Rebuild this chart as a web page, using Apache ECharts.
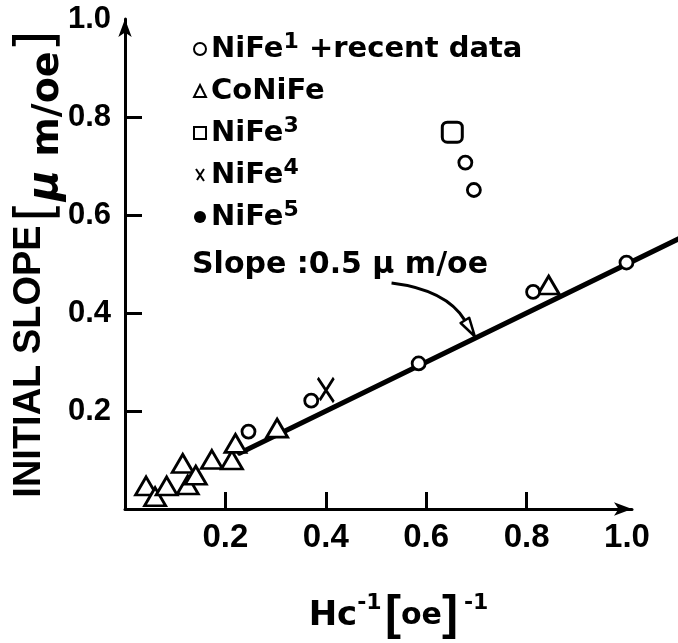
<!DOCTYPE html>
<html>
<head>
<meta charset="utf-8">
<script src="https://cdn.jsdelivr.net/npm/echarts@6/dist/echarts.min.js"></script>
<style>
  html, body { margin: 0; padding: 0; background: #fff; }
  #chart { width: 678px; height: 643px; }
</style>
</head>
<body>
<div id="chart"></div>
<script>
// Initial slope vs. inverse coercive force, permalloy family films
const nife1Points = [[0.246, 0.158], [0.371, 0.221], [0.585, 0.297], [0.678, 0.707],
                     [0.695, 0.651], [0.813, 0.443], [0.999, 0.503]];
const coNiFePoints = [[0.042, 0.047], [0.060, 0.025], [0.083, 0.047], [0.115, 0.093],
                      [0.125, 0.049], [0.141, 0.069], [0.173, 0.101], [0.213, 0.100],
                      [0.220, 0.134], [0.303, 0.165], [0.844, 0.457]];
const nife3Points = [[0.652, 0.769]];
const nife4Points = [[0.400, 0.243]];
const nife5Points = [];

// fitted line, slope 0.5 um/oe, drawn over this range of Hc^-1
const fitSlope = 0.5;
const fitRange = [0.228, 1.105];

// annotation arrow: from the slope caption down to the fitted line
const arrowFrom = [0.531, 0.461];
const arrowTo = [0.697, 0.352];
const arrowBend = 0.24;

const xTicks = [0.2, 0.4, 0.6, 0.8];
const xLabels = [0.2, 0.4, 0.6, 0.8, 1.0];
const yTicks = [0.2, 0.4, 0.6, 0.8];
const yLabels = [0.2, 0.4, 0.6, 0.8, 1.0];

const seriesNames = ['NiFe¹ +recent data', 'CoNiFe', 'NiFe³', 'NiFe⁴', 'NiFe⁵'];
const supDigits = { '¹': '1', '³': '3', '⁴': '4', '⁵': '5' };

const INK = '#000';
const LETTER = 'DejaVu Sans';
const NUM = 'Liberation Sans';
const crossPath = 'path://M0,0L16,24M16,0L2,22';

const fitSegment = [fitRange[0], fitSlope * fitRange[0], fitRange[1], fitSlope * fitRange[1]];

const chart = echarts.init(document.getElementById('chart'), null, { renderer: 'canvas' });

const hollow = { color: '#fff', borderColor: INK, borderWidth: 2.8, opacity: 1 };

function renderFit(params, api) {
  const a = api.coord([api.value(0), api.value(1)]);
  const b = api.coord([api.value(2), api.value(3)]);
  return {
    type: 'line',
    shape: { x1: a[0], y1: a[1], x2: b[0], y2: b[1] },
    style: { stroke: INK, lineWidth: 5, lineCap: 'round' }
  };
}

function renderArrow(params, api) {
  const a = api.coord([api.value(0), api.value(1)]);
  const b = api.coord([api.value(2), api.value(3)]);
  const k = api.value(4);
  const cx = (a[0] + b[0]) / 2 - (a[1] - b[1]) * k;
  const cy = (a[1] + b[1]) / 2 - (b[0] - a[0]) * k;
  let tx = b[0] - cx, ty = b[1] - cy;
  const len = Math.hypot(tx, ty);
  tx /= len; ty /= len;
  const headLen = 19, headHalf = 5;
  const bx = b[0] - tx * headLen, by = b[1] - ty * headLen;
  return {
    type: 'group',
    children: [
      {
        type: 'bezierCurve',
        shape: { x1: a[0], y1: a[1], x2: bx, y2: by, cpx1: cx, cpy1: cy },
        style: { stroke: INK, lineWidth: 3, fill: null }
      },
      {
        type: 'polygon',
        shape: { points: [[b[0], b[1]], [bx - ty * headHalf, by + tx * headHalf], [bx + ty * headHalf, by - tx * headHalf]] },
        style: { stroke: INK, lineWidth: 2.5, fill: '#fff', lineJoin: 'round' }
      }
    ]
  };
}

chart.setOption({
  backgroundColor: '#fff',
  animation: false,
  grid: { left: 125, top: 19, width: 507, height: 490, containLabel: false, outerBoundsMode: 'none' },
  xAxis: {
    type: 'value', min: 0, max: 1.01,
    splitLine: { show: false },
    axisLine: { show: true, onZero: false, lineStyle: { color: INK, width: 3 },
                symbol: ['none', 'arrow'], symbolSize: [10, 18] },
    axisTick: { show: true, inside: true, length: 17, lineStyle: { color: INK, width: 3 },
                customValues: xTicks },
    axisLabel: { show: true, margin: 12, color: INK, fontFamily: NUM, fontWeight: 'bold', fontSize: 33,
                 customValues: xLabels, formatter: v => v.toFixed(1) },
    name: '{m|Hc}{s|-1} {b|[}{o|oe}{b|]}{t|-1}',
    nameLocation: 'middle', nameGap: 83,
    nameTextStyle: {
      color: INK, padding: [0, 0, 0, 40],
      rich: {
        m: { fontFamily: LETTER, fontWeight: 'bold', fontSize: 34, lineHeight: 48, color: INK },
        o: { fontFamily: LETTER, fontWeight: 'bold', fontSize: 30, lineHeight: 48, color: INK },
        b: { fontFamily: NUM, fontWeight: 'bold', fontSize: 48, lineHeight: 48, color: INK },
        s: { fontFamily: LETTER, fontWeight: 'bold', fontSize: 22, lineHeight: 22, verticalAlign: 'top', color: INK },
        t: { fontFamily: LETTER, fontWeight: 'bold', fontSize: 22, lineHeight: 22, verticalAlign: 'top', color: INK, padding: [0, 0, 0, 6] }
      }
    }
  },
  yAxis: {
    type: 'value', min: 0, max: 1.0,
    splitLine: { show: false },
    axisLine: { show: true, onZero: false, lineStyle: { color: INK, width: 3 },
                symbol: ['none', 'arrow'], symbolSize: [10, 18] },
    axisTick: { show: true, inside: true, length: 17, lineStyle: { color: INK, width: 3 },
                customValues: yTicks },
    axisLabel: { show: true, margin: 14, color: INK, fontFamily: NUM, fontWeight: 'bold', fontSize: 31,
                 customValues: yLabels, formatter: v => v.toFixed(1) },
    name: '{c|INITIAL SLOPE} {b|[}{mu|μ}{u| m/oe}{b|]}',
    nameLocation: 'middle', nameRotate: 90, nameGap: 58, nameMoveOverlap: false,
    nameTextStyle: {
      color: INK,
      rich: {
        c: { fontFamily: NUM, fontWeight: 'bold', fontSize: 38, lineHeight: 40, verticalAlign: 'top', color: INK },
        b: { fontFamily: LETTER, fontSize: 54, lineHeight: 56, color: INK },
        mu: { fontFamily: LETTER, fontStyle: 'italic', fontWeight: 'bold', fontSize: 42, lineHeight: 46, verticalAlign: 'bottom', color: INK },
        u: { fontFamily: LETTER, fontWeight: 'bold', fontSize: 38, lineHeight: 44, verticalAlign: 'bottom', color: INK }
      }
    }
  },
  legend: {
    orient: 'vertical', left: 188, top: 26,
    itemGap: 6, itemWidth: 12, itemHeight: 12,
    selectedMode: false,
    data: [
      { name: seriesNames[0], icon: 'circle' },
      { name: seriesNames[1], icon: 'triangle' },
      { name: seriesNames[2], icon: 'rect' },
      { name: seriesNames[3], icon: crossPath },
      { name: seriesNames[4], icon: 'circle' }
    ],
    itemStyle: { borderWidth: 2 },
    formatter: name => name.replace(/[¹³⁴⁵]/g, ch => '{sup|' + supDigits[ch] + '}'),
    textStyle: {
      color: INK, fontFamily: LETTER, fontWeight: 'bold', fontSize: 29, lineHeight: 36,
      rich: {
        sup: { fontFamily: LETTER, fontWeight: 'bold', fontSize: 22, lineHeight: 11, verticalAlign: 'top', color: INK }
      }
    }
  },
  graphic: [
    {
      type: 'text', left: 192, top: 250, silent: true,
      style: { text: 'Slope :0.5 μ m/oe', fill: INK, font: 'bold 30px "DejaVu Sans"' }
    }
  ],
  series: [
    {
      name: 'fit', type: 'custom', data: [fitSegment], clip: false, silent: true, z: 1,
      encode: { x: [0, 2], y: [1, 3] }, renderItem: renderFit
    },
    {
      name: 'slope note', type: 'custom', data: [[...arrowFrom, ...arrowTo, arrowBend]], clip: false, silent: true, z: 1,
      encode: { x: [0, 2], y: [1, 3] }, renderItem: renderArrow
    },
    { name: seriesNames[0], type: 'scatter', data: nife1Points, symbol: 'circle', symbolSize: 13, z: 3, itemStyle: hollow },
    { name: seriesNames[1], type: 'scatter', data: coNiFePoints, symbol: 'triangle', symbolSize: [21, 18], z: 2, itemStyle: hollow },
    { name: seriesNames[2], type: 'scatter', data: nife3Points, symbol: 'roundRect', symbolSize: 20, z: 3,
      itemStyle: { color: '#fff', borderColor: INK, borderWidth: 3, opacity: 1 } },
    { name: seriesNames[3], type: 'scatter', data: nife4Points, symbol: crossPath, symbolSize: [16, 24], z: 3,
      itemStyle: { color: 'transparent', borderColor: INK, borderWidth: 3, opacity: 1 } },
    { name: seriesNames[4], type: 'scatter', data: nife5Points, symbol: 'circle', symbolSize: 8, z: 3,
      itemStyle: { color: INK, opacity: 1 } }
  ]
});
</script>
</body>
</html>
